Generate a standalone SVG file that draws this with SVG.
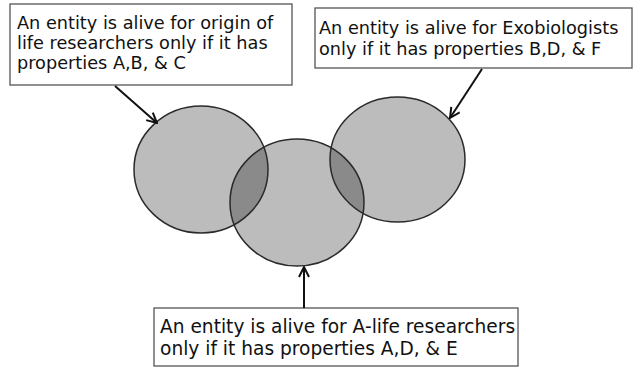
<svg xmlns="http://www.w3.org/2000/svg" width="633" height="368" viewBox="0 0 633 368">
<style>
.box{fill:#fff;stroke:#555;stroke-width:1.3}
.lbl{font-family:"DejaVu Sans",Verdana,sans-serif;fill:#111}
.s1{font-size:17.7px}
.s3{font-size:18.6px}
.circ{fill:#bcbcbc}
.ov{fill:#8a8a8a}
.ring{fill:none;stroke:#2a2a2a;stroke-width:1.5}
.conn{stroke:#111;stroke-width:2;fill:none;marker-end:url(#ah)}
</style>
<defs>
<marker id="ah" viewBox="0 0 12 12" refX="11" refY="6" markerWidth="12" markerHeight="12" markerUnits="userSpaceOnUse" orient="auto">
<polyline points="1,1 11,6 1,11" fill="none" stroke="#111" stroke-width="2"/>
</marker>
<clipPath id="c1"><ellipse cx="201" cy="169.5" rx="67" ry="63.5"/></clipPath>
<clipPath id="c3"><ellipse cx="397.5" cy="159.5" rx="67.5" ry="62.5"/></clipPath>
</defs>
<g id="circles">
<ellipse class="circ" cx="201" cy="169.5" rx="67" ry="63.5"/>
<ellipse class="circ" cx="397.5" cy="159.5" rx="67.5" ry="62.5"/>
<ellipse class="circ" cx="297" cy="202.5" rx="67" ry="63.5"/>
<ellipse class="ov" cx="297" cy="202.5" rx="67" ry="63.5" clip-path="url(#c1)"/>
<ellipse class="ov" cx="297" cy="202.5" rx="67" ry="63.5" clip-path="url(#c3)"/>
<ellipse class="ring" cx="201" cy="169.5" rx="67" ry="63.5"/>
<ellipse class="ring" cx="397.5" cy="159.5" rx="67.5" ry="62.5"/>
<ellipse class="ring" cx="297" cy="202.5" rx="67" ry="63.5"/>
</g>
<g id="node-origin">
<rect class="box" x="10" y="4" width="282" height="81"/>
<text class="lbl s1" x="17" y="29">An entity is alive for origin of</text>
<text class="lbl s1" x="17" y="49">life researchers only if it has</text>
<text class="lbl s1" x="17" y="69">properties A,B, &amp; C</text>
</g>
<g id="node-exo">
<rect class="box" x="315" y="8" width="317" height="60"/>
<text class="lbl s1" x="319" y="34">An entity is alive for Exobiologists</text>
<text class="lbl s1" x="319" y="55">only if it has properties B,D, &amp; F</text>
</g>
<g id="node-alife">
<rect class="box" x="154" y="308" width="364" height="58"/>
<text class="lbl s3" x="160" y="333">An entity is alive for A-life researchers</text>
<text class="lbl s3" x="160" y="355">only if it has properties A,D, &amp; E</text>
</g>
<g id="connectors">
<line class="conn" x1="115" y1="86" x2="157" y2="123"/>
<line class="conn" x1="482" y1="69" x2="450" y2="118"/>
<line class="conn" x1="304" y1="308" x2="304" y2="267"/>
</g>
</svg>
